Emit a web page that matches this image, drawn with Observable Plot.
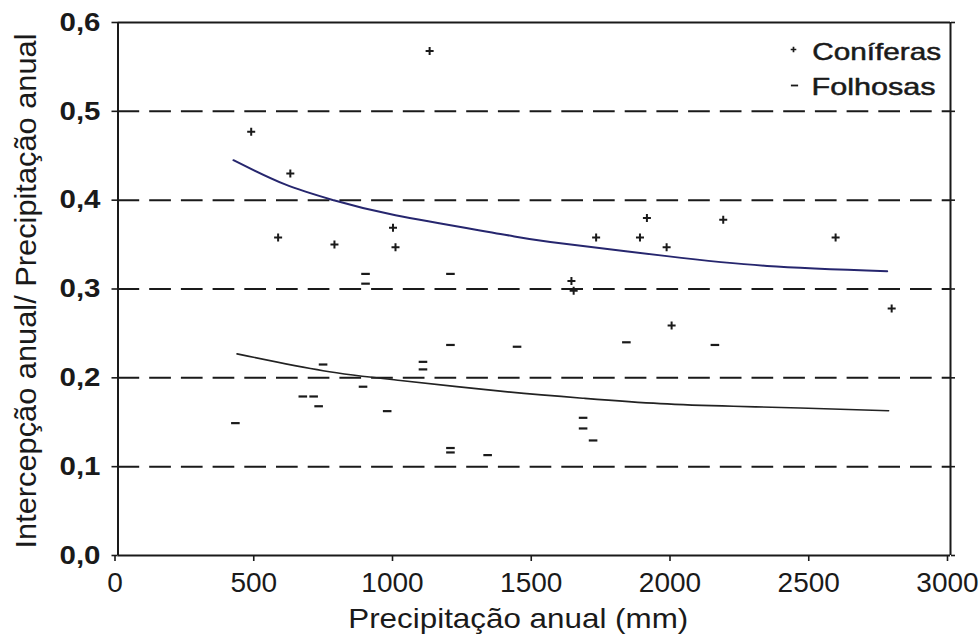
<!DOCTYPE html>
<html><head><meta charset="utf-8">
<script src="https://cdn.jsdelivr.net/npm/d3@7"></script>
<script src="https://cdn.jsdelivr.net/npm/@observablehq/plot@0.6"></script>
<style>
  html,body{margin:0;padding:0;background:#fff;}
  #chart svg{display:block;}
</style>
</head>
<body>
<div id="chart"></div>
<script>
// Coníferas (+)
const coniferasPrecip = [480, 577, 621, 780, 991, 1000, 1123, 1634, 1642, 1723, 1881, 1906, 1977, 1995, 2181, 2586, 2788];
const coniferasRatio  = [0.477, 0.358, 0.430, 0.350, 0.369, 0.347, 0.568, 0.309, 0.298, 0.358, 0.358, 0.380, 0.347, 0.259, 0.378, 0.358, 0.278];
// Folhosas (-)
const folhosasPrecip = [423, 666, 705, 723, 739, 883, 892, 892, 970, 1099, 1099, 1198, 1198, 1198, 1198, 1332, 1438, 1676, 1676, 1712, 1832, 2151];
const folhosasRatio  = [0.149, 0.179, 0.179, 0.168, 0.215, 0.190, 0.317, 0.306, 0.1625, 0.218, 0.2095, 0.317, 0.237, 0.121, 0.116, 0.113, 0.235, 0.155, 0.143, 0.1295, 0.240, 0.237];
// fitted curves
const curveConifPrecip = [416, 600, 776, 1000, 1378, 1558, 1978, 2339, 2772];
const curveConifRatio  = [0.445, 0.418, 0.400, 0.383, 0.362, 0.353, 0.337, 0.326, 0.320];
const curveFolhPrecip  = [429, 739, 1018, 1378, 1678, 1954, 2218, 2458, 2777];
const curveFolhRatio   = [0.227, 0.208, 0.197, 0.185, 0.177, 0.171, 0.168, 0.166, 0.163];
// ticks and labels
const xTicks = [0, 500, 1000, 1500, 2000, 2500, 3000];
const yTicks = [0, 0.1, 0.2, 0.3, 0.4, 0.5, 0.6];
const gridLevels = [0.1, 0.2, 0.3, 0.4, 0.5];
const seriesNames = ["Coníferas", "Folhosas"];
const xTitle = "Precipitação anual (mm)";
const yTitle = "Intercepção anual/ Precipitação anual";

const conif = coniferasPrecip.map((p, i) => ({p, r: coniferasRatio[i]}));
const folh = folhosasPrecip.map((p, i) => ({p, r: folhosasRatio[i]}));
const cConif = curveConifPrecip.map((p, i) => ({p, r: curveConifRatio[i]}));
const cFolh = curveFolhPrecip.map((p, i) => ({p, r: curveFolhRatio[i]}));

const plusSym = {draw(ctx){ const h = 4; ctx.moveTo(-h,0); ctx.lineTo(h,0); ctx.moveTo(0,-h); ctx.lineTo(0,h); }};
const smallPlus = {draw(ctx){ const h = 2.8; ctx.moveTo(-h,0); ctx.lineTo(h,0); ctx.moveTo(0,-h); ctx.lineTo(0,h); }};
const dashSym = {draw(ctx){ ctx.moveTo(-4.3,0); ctx.lineTo(4.3,0); }};
const smallDash = {draw(ctx){ ctx.moveTo(-3.6,0); ctx.lineTo(3.6,0); }};

const ink = "#1a1a1a";
const font = "'Liberation Sans', Arial, Helvetica, sans-serif";

const chart = Plot.plot({
  width: 979,
  height: 637,
  marginLeft: 117.5,
  marginRight: 29,
  marginTop: 22,
  marginBottom: 82,
  style: {fontFamily: font, color: ink, background: "#fff"},
  x: {domain: [0, 3000]},
  y: {domain: [0, 0.6]},
  marks: [
    Plot.ruleY(gridLevels, {stroke: ink, strokeWidth: 2, strokeDasharray: "21.7,10"}),
    Plot.ruleY([0.6], {stroke: ink, strokeWidth: 2}),
    Plot.ruleX([3000], {y1: 0, y2: 0.6, stroke: ink, strokeWidth: 2}),
    Plot.ruleX([0], {stroke: ink, strokeWidth: 2}),
    Plot.ruleY([0], {stroke: ink, strokeWidth: 2}),
    Plot.axisY({ticks: yTicks, tickSize: 6, tickPadding: 11.5, strokeWidth: 1.6,
      tickFormat: d => d.toFixed(1).replace(".", ","), fontSize: 26, fontWeight: "bold", label: null}),
    Plot.axisY({anchor: "right", ticks: yTicks, tickSize: 4, strokeWidth: 1.6, tickFormat: () => "", label: null}),
    Plot.axisX({ticks: xTicks, tickSize: 6, tickPadding: 11, strokeWidth: 1.6, dx: -3,
      tickFormat: d => String(d), fontSize: 28, label: null}),
    Plot.line(cConif, {x: "p", y: "r", stroke: "#26266e", strokeWidth: 2, curve: "natural"}),
    Plot.line(cFolh, {x: "p", y: "r", stroke: "#222", strokeWidth: 1.6, curve: "natural"}),
    Plot.dot(conif, {x: "p", y: "r", symbol: plusSym, stroke: ink, fill: "none", strokeWidth: 2}),
    Plot.dot(folh, {x: "p", y: "r", symbol: dashSym, stroke: ink, fill: "none", strokeWidth: 2.2}),
    // legend
    Plot.dot([seriesNames[0]], {frameAnchor: "top-right", dx: -157, dy: 27, symbol: smallPlus, stroke: ink, fill: "none", strokeWidth: 1.7}),
    Plot.dot([seriesNames[1]], {frameAnchor: "top-right", dx: -156, dy: 63, symbol: smallDash, stroke: ink, fill: "none", strokeWidth: 1.8}),
    Plot.text([seriesNames[0]], {frameAnchor: "top-right", dx: -138.3, dy: 30.3, textAnchor: "start", lineAnchor: "middle", fontSize: 24, fill: ink, stroke: ink, strokeWidth: 0.5}),
    Plot.text([seriesNames[1]], {frameAnchor: "top-right", dx: -139, dy: 65.3, textAnchor: "start", lineAnchor: "middle", fontSize: 24, fill: ink, stroke: ink, strokeWidth: 0.5}),
    // axis titles
    Plot.text([xTitle], {frameAnchor: "bottom", dx: -16, dy: 64, textAnchor: "middle", lineAnchor: "middle", fontSize: 28, fill: ink}),
    Plot.text([yTitle], {frameAnchor: "left", rotate: -90, dx: -91.8, dy: 2, textAnchor: "middle", lineAnchor: "middle", fontSize: 30, fill: ink})
  ]
});
document.getElementById("chart").appendChild(chart);

// stretch wide texts to their measured widths
const widths = {};
widths[seriesNames[0]] = 129;
widths[seriesNames[1]] = 124;
widths[xTitle] = 340;
widths[yTitle] = 515;
d3.select(chart).selectAll("text").each(function(){
  const t = this.textContent;
  if (widths[t]) { this.setAttribute("textLength", widths[t]); this.setAttribute("lengthAdjust", "spacingAndGlyphs"); }
  else if (/^\d,\d$/.test(t)) { this.setAttribute("textLength", 41); this.setAttribute("lengthAdjust", "spacingAndGlyphs"); }
});
</script>
</body></html>
